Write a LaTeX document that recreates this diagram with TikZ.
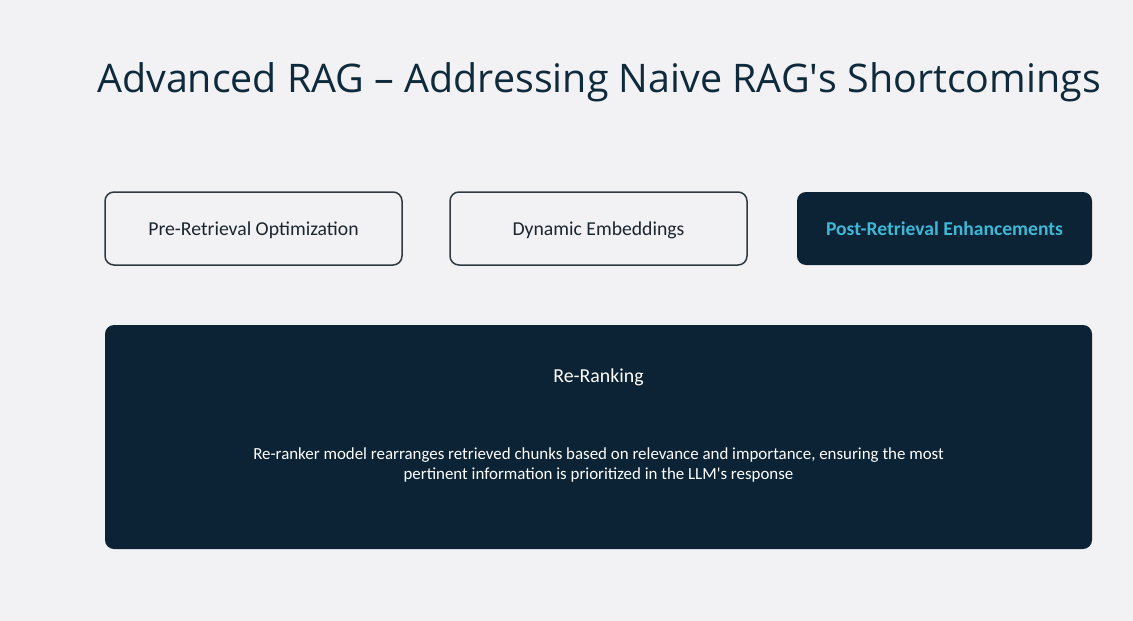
\documentclass[tikz,border=0pt]{standalone}
\usepackage{fontspec}
\setmainfont{Carlito}
\newfontfamily\titlefont{Open Sans}
\definecolor{bgc}{HTML}{F2F1F4}
\definecolor{navy}{HTML}{0B2335}
\definecolor{titlec}{HTML}{0E2A3B}
\definecolor{edgec}{HTML}{2F3A40}
\definecolor{cyanc}{HTML}{3FB8D8}
\definecolor{txtc}{HTML}{1A252D}
\tikzset{
  tabbox/.style={draw=edgec, line width=1.5pt, rounded corners=9pt, fill=bgc, minimum width=297pt, minimum height=73pt, inner sep=0pt, text height=14pt, text depth=0pt, text=txtc, font=\fontsize{19.7}{23}\selectfont},
  activebox/.style={fill=navy, rounded corners=9pt, minimum width=295pt, minimum height=73pt, inner sep=0pt, text height=14pt, text depth=0pt, text=cyanc, font=\bfseries\fontsize{19.6}{23}\selectfont},
  panel/.style={fill=navy, rounded corners=9pt, minimum width=987pt, minimum height=224pt, inner sep=0pt},
  paneltext/.style={text=white, align=center, font=\fontsize{16.9}{20}\selectfont}
}
\begin{document}
\begin{tikzpicture}[x=1pt,y=-1pt]
\useasboundingbox (0,0) rectangle (1133,621);
\fill[bgc] (0,0) rectangle (1133,621);
\node[anchor=base west, inner sep=0pt, text=titlec, font=\titlefont\fontsize{39.4}{44}\selectfont] (title) at (97,92) {Advanced RAG – Addressing Naive RAG\textquotesingle s Shortcomings};
\node[tabbox] (pre) at (253.5,228.5) {Pre-Retrieval Optimization};
\node[tabbox] (dyn) at (598.5,228.5) {Dynamic Embeddings};
\node[activebox] (post) at (944.5,228.5) {Post-Retrieval Enhancements};
\node[panel] (panel) at (598.5,437) {};
\node[paneltext, font=\fontsize{19.8}{23}\selectfont, anchor=base] (rerank) at (598.5,382) {Re-Ranking};
\node[paneltext, anchor=base] (desc) at (598.5,479) {Re-ranker model rearranges retrieved chunks based on relevance and importance, ensuring the most\\pertinent information is prioritized in the LLM\textquotesingle s response};
\end{tikzpicture}
\end{document}
